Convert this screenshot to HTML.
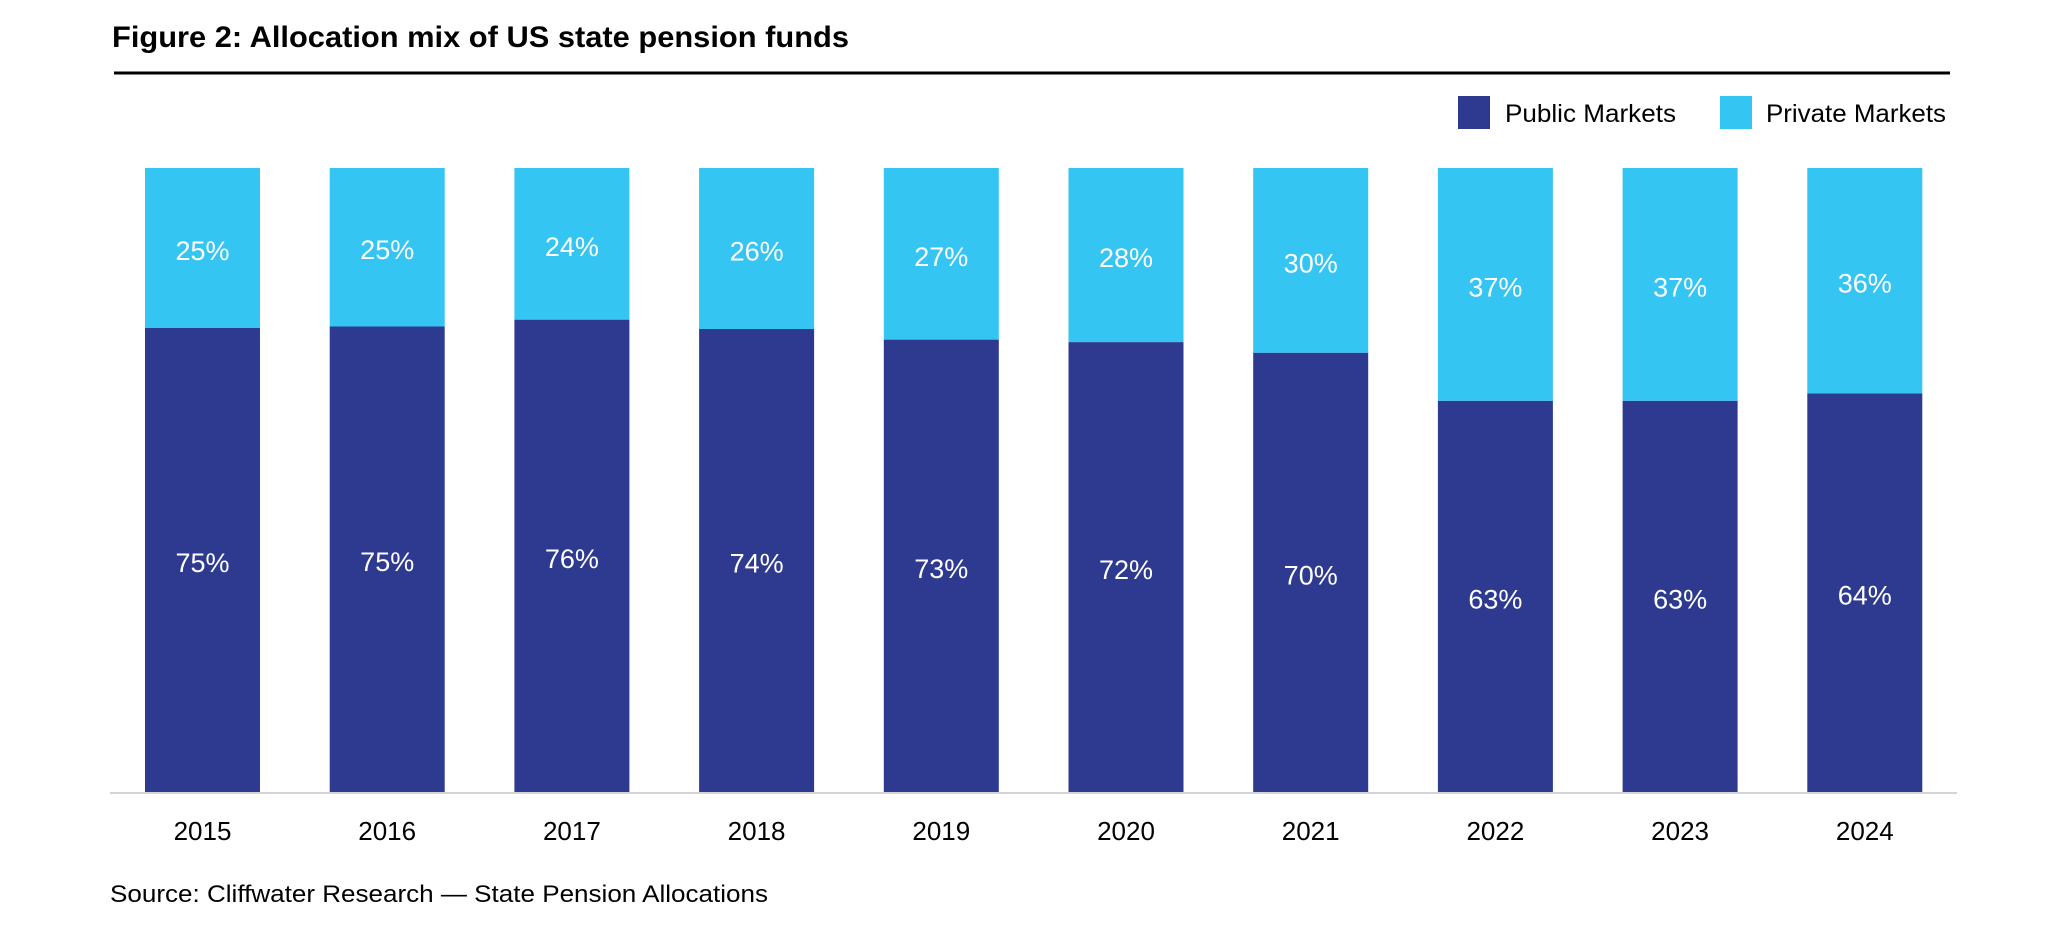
<!DOCTYPE html>
<html><head><meta charset="utf-8"><style>
html,body{margin:0;padding:0;background:#fff;}
svg{display:block;font-family:"Liberation Sans",sans-serif;}
</style></head><body>
<svg id="chart" width="2055" height="933" viewBox="0 0 2055 933">
<text x="112" y="47" font-size="30" font-weight="bold" fill="#000" textLength="737" lengthAdjust="spacingAndGlyphs">Figure 2: Allocation mix of US state pension funds</text>
<rect x="114" y="71.5" width="1836" height="3" fill="#000"/>
<g>
<rect x="1458" y="96" width="32" height="33" fill="#2e3a8f"/>
<text x="1505" y="122" font-size="25" fill="#000" textLength="171" lengthAdjust="spacingAndGlyphs">Public Markets</text>
<rect x="1720" y="96" width="32" height="33" fill="#35c5f3"/>
<text x="1766" y="122" font-size="25" fill="#000" textLength="180" lengthAdjust="spacingAndGlyphs">Private Markets</text>
</g>
<g id="bars"></g>
<rect x="110" y="792" width="1847" height="2" fill="#d4d4d4"/>
<g id="xlabels"></g>
<text x="110" y="902" font-size="24" fill="#000" textLength="658" lengthAdjust="spacingAndGlyphs">Source: Cliffwater Research — State Pension Allocations</text>
</svg>
<script>
const categories = ["2015","2016","2017","2018","2019","2020","2021","2022","2023","2024"];
const publicValues = [74.4,74.6,75.7,74.2,72.5,72.1,70.4,62.7,62.7,63.9];
const privateValues = [25.6,25.4,24.3,25.8,27.5,27.9,29.6,37.3,37.3,36.1];
const publicLabels = ["75%","75%","76%","74%","73%","72%","70%","63%","63%","64%"];
const privateLabels = ["25%","25%","24%","26%","27%","28%","30%","37%","37%","36%"];

const NS = "http://www.w3.org/2000/svg";
const plotTop = 168, plotBottom = 792, x0 = 145, step = 184.7, barW = 115;
function xPos(i){ return x0 + i*step; }
function yScale(v){ return plotBottom - (v/100)*(plotBottom-plotTop); }
const bars = document.getElementById('bars');
const xl = document.getElementById('xlabels');
function mk(tag, attrs){ const e=document.createElementNS(NS,tag); for(const k in attrs) e.setAttribute(k,attrs[k]); return e; }
categories.forEach((c,i)=>{
  const x = xPos(i);
  const total = publicValues[i] + privateValues[i];
  const yPub = yScale(publicValues[i]/total*100);
  const yTop = yScale(100);
  const pub = mk('rect',{x:x,y:yPub,width:barW,height:plotBottom-yPub,fill:'#2e3a8f'});
  
  
  bars.appendChild(pub);
  const pri = mk('rect',{x:x,y:yTop,width:barW,height:yPub-yTop,fill:'#35c5f3'});
  
  
  bars.appendChild(pri);
  const t1 = mk('text',{x:x+barW/2,y:(yPub+plotBottom)/2+12,'font-size':27,fill:'#fff','text-anchor':'middle'});
  t1.textContent = publicLabels[i];
  
  
  bars.appendChild(t1);
  const t2 = mk('text',{x:x+barW/2,y:(yTop+yPub)/2+12,'font-size':27,fill:'#fff','text-anchor':'middle'});
  t2.textContent = privateLabels[i];
  
  
  bars.appendChild(t2);
  const yl = mk('text',{x:x+barW/2,y:840,'font-size':26,fill:'#000','text-anchor':'middle'});
  yl.textContent = c;
  
  
  xl.appendChild(yl);
});
</script>
</body></html>
